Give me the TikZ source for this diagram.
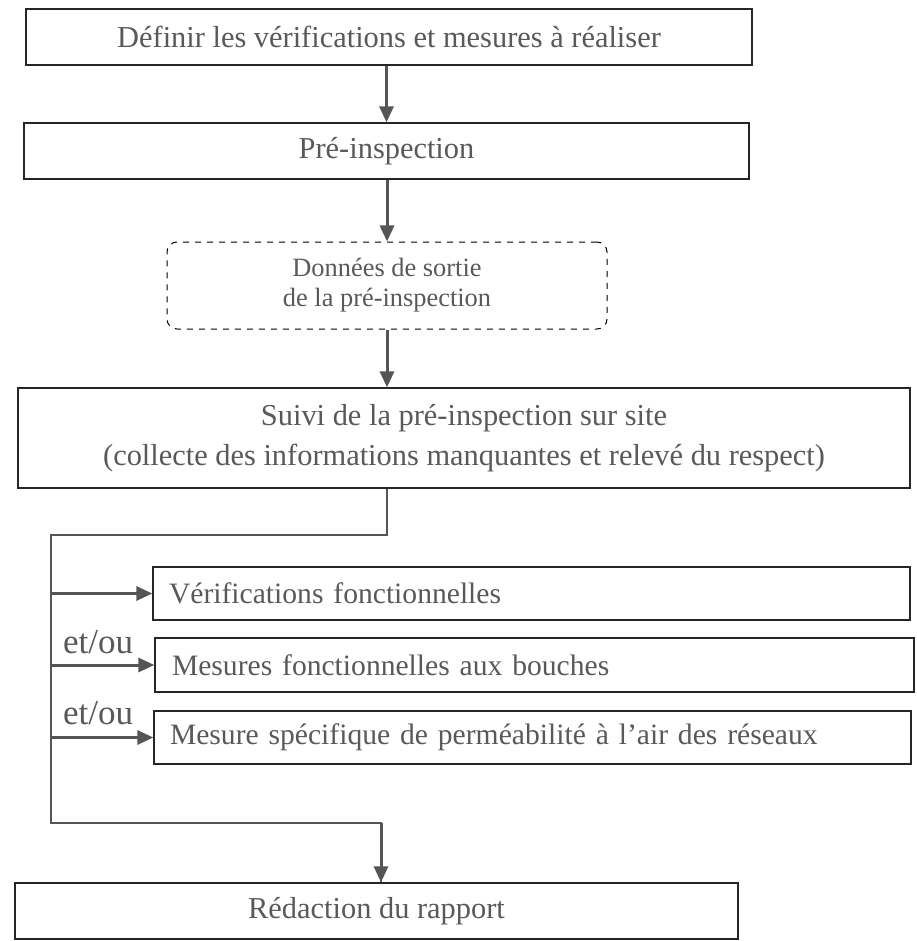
\documentclass[tikz,border=0pt]{standalone}
\usepackage{fontspec}
\setmainfont{Liberation Serif}
\usepackage{tikz}
\usetikzlibrary{arrows.meta,calc}
\definecolor{txtgray}{HTML}{595959}
\definecolor{arrgray}{HTML}{555555}
\definecolor{boxline}{HTML}{262626}

\begin{document}
\begin{tikzpicture}[
    x=0.5pt,y=-0.5pt,
    box/.style={draw=boxline,line width=0.65pt,text=txtgray,inner sep=0pt,
      font=\fontsize{15.2}{20}\selectfont,align=center},
    sidebox/.style={draw=boxline,line width=0.65pt,text=txtgray,inner sep=0pt,
      font=\fontsize{14.8}{18}\selectfont,minimum height=26.5pt,
      minimum width=378.5pt,text width=362.5pt,align=left},
    outbox/.style={draw=black,dashed,line width=0.5pt,rounded corners=5pt,
      text=txtgray,font=\fontsize{13.2}{15}\selectfont,align=center},
    arr/.style={draw=arrgray,line width=1.5pt,-{Triangle[length=8pt,width=7pt]}},
    bus/.style={draw=arrgray,line width=0.75pt},
    lbl/.style={text=txtgray,font=\fontsize{17.5}{18}\selectfont,inner sep=0pt}
    ]
    \useasboundingbox (0,0) rectangle (916,941);
    \node[box,minimum width=363pt,minimum height=28pt] (def) at (389,37)
      {Définir les vérifications et mesures à réaliser};
    \node[box,minimum width=362.5pt,minimum height=28pt] (pre) at (386.5,151)
      {Pré-inspection};
    \node[outbox,minimum width=220pt,minimum height=43.5pt] (out) at (387,285.5)
      {Données de sortie\\de la pré-inspection};
    \node[box,minimum width=446pt,minimum height=50pt] (suivi) at (464,438)
      {Suivi de la pré-inspection sur site\\(collecte des informations manquantes et relevé du respect)};
    \node[sidebox] (verif) at (531.5,593.5) {Vérifications fonctionnelles};
    \node[sidebox,minimum width=379.5pt,minimum height=27pt] (mesb) at (534.5,665)
      {Mesures fonctionnelles aux bouches};
    \node[sidebox] (mesp) at (532.5,737.5)
      {Mesure spécifique de perméabilité à l’air des réseaux};
    \node[box,minimum width=361.5pt,minimum height=28pt] (redac) at (376.5,911)
      {Rédaction du rapport};
    \node[lbl] (ou1) at (98,642) {et/ou};
    \node[lbl] (ou2) at (98,713) {et/ou};

    \coordinate (bustop) at (51,535);
    \coordinate (busbot) at (51,823);

    \draw[arr] (def.south -| pre.north) -- (pre.north);
    \draw[arr] (pre.south -| out.north) -- (out.north);
    \draw[arr] (out.south) -- (out.south |- suivi.north);
    \draw[bus] (out.south |- suivi.south) |- (bustop) -- (busbot) -| ([xshift=2.25pt]redac.north);
    \draw[arr] ([xshift=2.25pt]redac.north |- busbot) -- ([xshift=2.25pt]redac.north);
    \draw[arr] (verif.west -| bustop) -- (verif.west);
    \draw[arr] (mesb.west -| bustop) -- (mesb.west);
    \draw[arr] (mesp.west -| bustop) -- (mesp.west);
  \end{tikzpicture}
\end{document}
